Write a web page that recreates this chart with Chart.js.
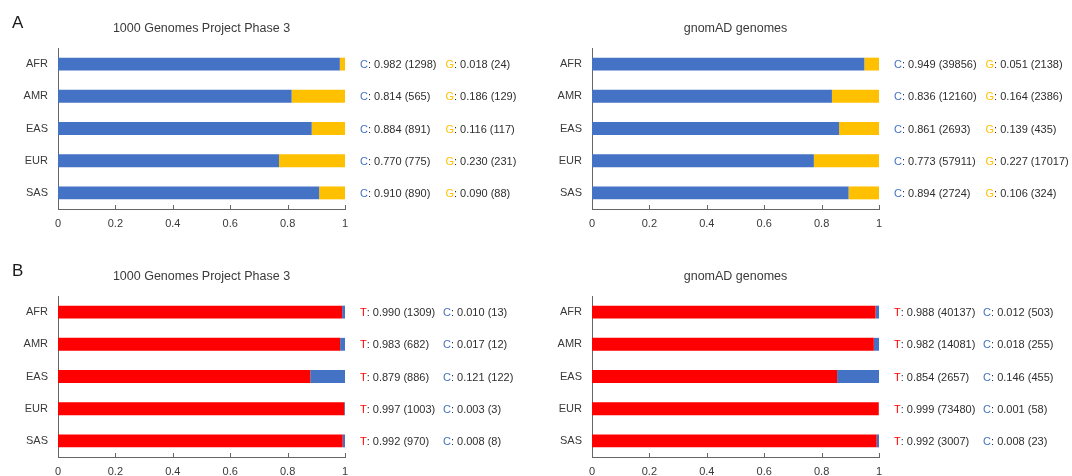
<!DOCTYPE html>
<html>
<head>
<meta charset="utf-8">
<script src="https://cdn.jsdelivr.net/npm/chart.js@4.4.1/dist/chart.umd.min.js"></script>
<style>
  html, body { margin: 0; padding: 0; background: #fff; overflow: hidden; width: 1072px; height: 476px; }
  canvas { position: absolute; }
</style>
</head>
<body>
<canvas id="panelA1" width="534" height="240" style="left:0;top:0"></canvas>
<canvas id="panelA2" width="538" height="240" style="left:534px;top:0"></canvas>
<canvas id="panelB1" width="534" height="240" style="left:0;top:248px"></canvas>
<canvas id="panelB2" width="538" height="240" style="left:534px;top:248px"></canvas>
<script>
// Populations and axis ticks
const POPULATIONS = ['AFR', 'AMR', 'EAS', 'EUR', 'SAS'];
const X_TICKS = [0, 0.2, 0.4, 0.6, 0.8, 1];

// Panel A: C/G allele, 1000 Genomes Project Phase 3
const a1_C_freq  = [0.982, 0.814, 0.884, 0.770, 0.910];
const a1_C_count = [1298, 565, 891, 775, 890];
const a1_G_freq  = [0.018, 0.186, 0.116, 0.230, 0.090];
const a1_G_count = [24, 129, 117, 231, 88];

// Panel A: C/G allele, gnomAD genomes
const a2_C_freq  = [0.949, 0.836, 0.861, 0.773, 0.894];
const a2_C_count = [39856, 12160, 2693, 57911, 2724];
const a2_G_freq  = [0.051, 0.164, 0.139, 0.227, 0.106];
const a2_G_count = [2138, 2386, 435, 17017, 324];

// Panel B: T/C allele, 1000 Genomes Project Phase 3
const b1_T_freq  = [0.990, 0.983, 0.879, 0.997, 0.992];
const b1_T_count = [1309, 682, 886, 1003, 970];
const b1_C_freq  = [0.010, 0.017, 0.121, 0.003, 0.008];
const b1_C_count = [13, 12, 122, 3, 8];

// Panel B: T/C allele, gnomAD genomes
const b2_T_freq  = [0.988, 0.982, 0.854, 0.999, 0.992];
const b2_T_count = [40137, 14081, 2657, 73480, 3007];
const b2_C_freq  = [0.012, 0.018, 0.146, 0.001, 0.008];
const b2_C_count = [503, 255, 455, 58, 23];

const FONT = '"Liberation Sans", Arial, Helvetica, sans-serif';
const BLUE = '#4472C4';
const GOLD = '#FFC000';
const RED = '#FF0000';
const AXIS_COLOR = '#666666';
const LABEL_COLOR = '#3a3a3a';
const TEXT_COLOR = '#2e2e2e';

// Tick marks pointing into the plot, titles, panel letters and per-bar allele labels
const panelDecor = {
  id: 'panelDecor',
  afterDraw(chart, args, opts) {
    const { ctx, chartArea: a, scales: { x, y } } = chart;
    ctx.save();

    ctx.strokeStyle = AXIS_COLOR;
    ctx.lineWidth = 1;
    X_TICKS.forEach(v => {
      const px = Math.round(x.getPixelForValue(v)) + 0.5;
      ctx.beginPath();
      ctx.moveTo(px, a.bottom);
      ctx.lineTo(px, a.bottom - 4);
      ctx.stroke();
    });

    ctx.textBaseline = 'middle';
    ctx.font = '12.5px ' + FONT;
    ctx.fillStyle = LABEL_COLOR;
    ctx.textAlign = 'center';
    ctx.fillText(opts.title, (a.left + a.right) / 2, 28.5);

    if (opts.letter) {
      ctx.font = '17px ' + FONT;
      ctx.fillStyle = '#1a1a1a';
      ctx.textAlign = 'left';
      ctx.fillText(opts.letter, 12, 23);
    }

    ctx.font = '11px ' + FONT;
    ctx.textAlign = 'left';
    const ds = chart.data.datasets;
    const rest = (d, i) => ': ' + d.data[i].toFixed(3) + ' (' + d.counts[i] + ')';
    const x0 = a.right + 15;
    const w0 = Math.max(...POPULATIONS.map((_, i) => ctx.measureText(ds[0].allele + rest(ds[0], i)).width));
    const x1 = x0 + w0 + 9;
    POPULATIONS.forEach((_, i) => {
      const py = y.getPixelForValue(i) + 1;
      [[ds[0], x0], [ds[1], x1]].forEach(([d, px]) => {
        ctx.fillStyle = d.backgroundColor;
        ctx.fillText(d.allele, px, py);
        const lw = ctx.measureText(d.allele).width;
        ctx.fillStyle = TEXT_COLOR;
        ctx.fillText(rest(d, i), px + lw, py);
      });
    });
    ctx.restore();
  }
};

function makePanel(id, title, letter, first, second, canvasWidth) {
  const dataset = (s) => ({
    data: s.freq,
    counts: s.count,
    allele: s.allele,
    backgroundColor: s.color,
    borderWidth: 0,
    categoryPercentage: 0.8,
    barPercentage: 0.5
  });
  new Chart(document.getElementById(id), {
    type: 'bar',
    data: { labels: POPULATIONS, datasets: [dataset(first), dataset(second)] },
    plugins: [panelDecor],
    options: {
      indexAxis: 'y',
      responsive: false,
      animation: false,
      events: [],
      layout: { padding: { top: 48, left: 0, right: canvasWidth - 345, bottom: 7 } },
      plugins: {
        legend: { display: false },
        tooltip: { enabled: false },
        title: { display: false },
        panelDecor: { title, letter }
      },
      scales: {
        x: {
          stacked: true,
          min: 0,
          max: 1,
          afterBuildTicks: (s) => { s.ticks = X_TICKS.map(v => ({ value: v })); },
          afterFit: (s) => { s.height = 24; },
          grid: { display: false, drawTicks: false },
          border: { display: true, color: AXIS_COLOR, width: 1 },
          ticks: {
            padding: 8,
            color: LABEL_COLOR,
            font: { family: FONT, size: 11 },
            callback: (v) => String(+Number(v).toFixed(1))
          }
        },
        y: {
          stacked: true,
          afterFit: (s) => { s.width = 58; },
          grid: { display: false, drawTicks: false },
          border: { display: true, color: AXIS_COLOR, width: 1 },
          ticks: {
            padding: 10,
            color: LABEL_COLOR,
            font: { family: FONT, size: 11 }
          }
        }
      }
    }
  });
}

makePanel('panelA1', '1000 Genomes Project Phase 3', 'A',
  { allele: 'C', freq: a1_C_freq, count: a1_C_count, color: BLUE },
  { allele: 'G', freq: a1_G_freq, count: a1_G_count, color: GOLD }, 534);
makePanel('panelA2', 'gnomAD genomes', null,
  { allele: 'C', freq: a2_C_freq, count: a2_C_count, color: BLUE },
  { allele: 'G', freq: a2_G_freq, count: a2_G_count, color: GOLD }, 538);
makePanel('panelB1', '1000 Genomes Project Phase 3', 'B',
  { allele: 'T', freq: b1_T_freq, count: b1_T_count, color: RED },
  { allele: 'C', freq: b1_C_freq, count: b1_C_count, color: BLUE }, 534);
makePanel('panelB2', 'gnomAD genomes', null,
  { allele: 'T', freq: b2_T_freq, count: b2_T_count, color: RED },
  { allele: 'C', freq: b2_C_freq, count: b2_C_count, color: BLUE }, 538);
</script>
</body>
</html>
